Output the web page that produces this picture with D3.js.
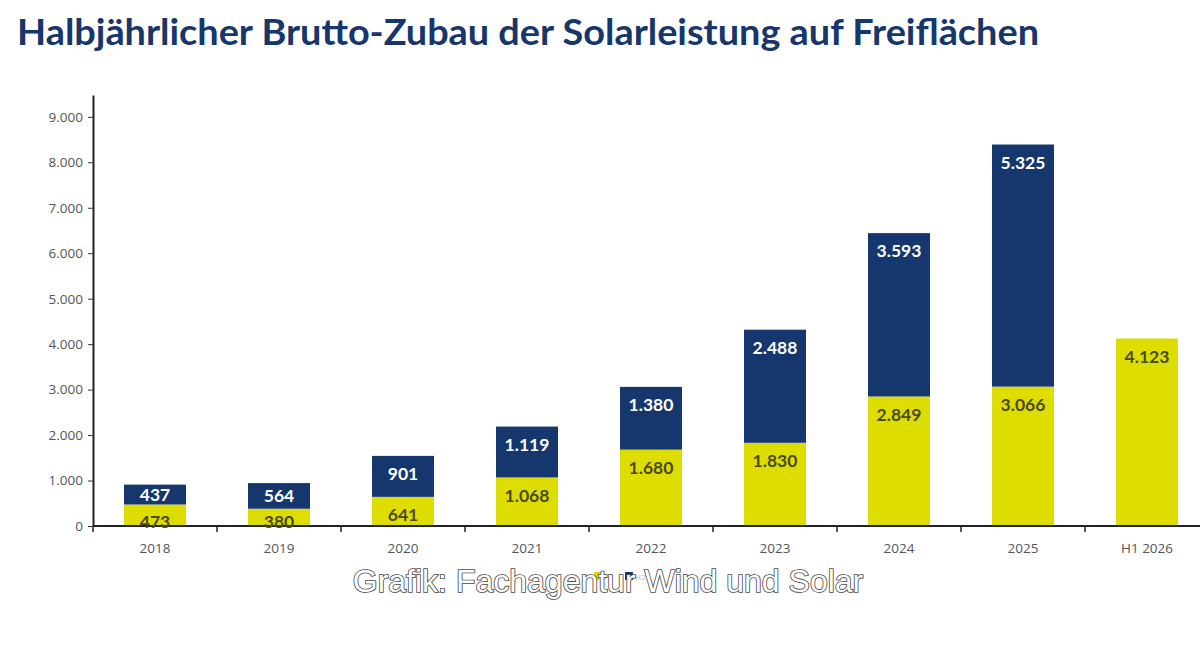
<!DOCTYPE html>
<html>
<head>
<meta charset="utf-8">
<script src="https://cdn.jsdelivr.net/npm/d3@7"></script>
<style>
  body { margin: 0; background: #fff; }
  svg { display: block; }
</style>
</head>
<body>
<div class="chart"></div>
<script>
// Data (MW)
const categories = ["2018", "2019", "2020", "2021", "2022", "2023", "2024", "2025", "H1 2026"];
const firstHalf  = [473, 380, 641, 1068, 1680, 1830, 2849, 3066, 4123];
const secondHalf = [437, 564, 901, 1119, 1380, 2488, 3593, 5325, null];
const seriesNames = ["H1", "H2"];
const yTicks = [0, 1000, 2000, 3000, 4000, 5000, 6000, 7000, 8000, 9000];

const W = 1200, H = 648;
const Margin = {top: 95, right: -9, bottom: 122, left: 93};
const navy = "#15376e", yellow = "#dedd00";

const fmt = v => d3.format(",")(v).replace(/,/g, ".");

const svg = d3.select(".chart").append("svg")
    .attr("width", W).attr("height", H);

// title
svg.append("text")
    .attr("x", 17).attr("y", 45)
    .attr("font-family", "Lato, 'Open Sans', sans-serif")
    .attr("font-weight", 700)
    .attr("font-size", 36)
    .attr("textLength", 1022)
    .attr("lengthAdjust", "spacingAndGlyphs")
    .attr("fill", "#17366b")
    .text("Halbjährlicher Brutto-Zubau der Solarleistung auf Freiflächen");

// build stacked rows
let rows = categories.map((c, i) => ({cat: c, H1: firstHalf[i], H2: secondHalf[i] || 0}));
let stacked = d3.stack().keys(seriesNames)(rows);

let x = d3.scaleBand().domain(categories)
    .range([Margin.left, W - Margin.right]).paddingInner(0.5).paddingOuter(0.25);
let y = d3.scaleLinear().domain([0, 9480]).range([H - Margin.bottom, Margin.top]);

// Y axis
let yAxis = svg.append("g")
    .attr("transform", "translate(" + Margin.left + ",0)")
    .call(d3.axisLeft(y).tickValues(yTicks).tickFormat(fmt).tickSize(5).tickSizeOuter(0));
yAxis.select(".domain").attr("stroke", "#222").attr("stroke-width", 2);
yAxis.selectAll(".tick line").attr("stroke", "#333");
yAxis.selectAll("text")
    .attr("font-family", "'Open Sans', sans-serif")
    .attr("font-size", 13.5).attr("fill", "#555").attr("x", -10);

// bars
let colors = {H1: yellow, H2: navy};
stacked.forEach(s => {
    svg.append("g").selectAll("rect")
        .data(s.filter(d => d[1] > d[0]))
        .join("rect")
        .attr("x", d => x(d.data.cat))
        .attr("width", x.bandwidth())
        .attr("y", d => y(d[1]))
        .attr("height", d => y(d[0]) - y(d[1]))
        .attr("fill", colors[s.key]);
});

// X axis (category boundaries as ticks)
let xAxisG = svg.append("g")
    .attr("transform", "translate(0," + y(0) + ")");
xAxisG.append("line")
    .attr("x1", Margin.left).attr("x2", W)
    .attr("stroke", "#222").attr("stroke-width", 2);
let step = x.step();
xAxisG.selectAll(".tk")
    .data(categories.map((c, i) => i))
    .join("line")
    .attr("x1", i => Margin.left + i * step).attr("x2", i => Margin.left + i * step)
    .attr("y1", 0).attr("y2", 6)
    .attr("stroke", "#222").attr("stroke-width", 1.5);
xAxisG.selectAll("text")
    .data(categories)
    .join("text")
    .attr("x", d => x(d) + x.bandwidth() / 2)
    .attr("y", 27)
    .attr("text-anchor", "middle")
    .attr("font-family", "'Open Sans', sans-serif")
    .attr("font-size", 13.5).attr("fill", "#555")
    .text(d => d);

// value labels
stacked.forEach(s => {
    svg.append("g").selectAll("text")
        .data(s.filter(d => d[1] > d[0]))
        .join("text")
        .attr("x", d => x(d.data.cat) + x.bandwidth() / 2)
        .attr("y", d => {
            let top = y(d[1]), bot = y(d[0]);
            if (s.key === "H2" && bot - top < 36) return (top + bot) / 2;
            return Math.min(top + 18, y(0) - 4);
        })
        .attr("dy", "0.35em")
        .attr("text-anchor", "middle")
        .attr("font-family", "Lato, 'Open Sans', sans-serif")
        .attr("font-weight", 700)
        .attr("font-size", 17.5)
        .attr("fill", s.key === "H2" ? "#fff" : "#4a4a1c")
        .text(d => fmt(d[1] - d[0]));
});

// legend (mostly covered by the credit line)
let legend = svg.append("g").attr("transform", "translate(594,572)");
seriesNames.forEach((n, i) => {
    legend.append("rect").attr("x", i * 31).attr("y", 0)
        .attr("width", 8).attr("height", 8).attr("fill", colors[n]);
    legend.append("text").attr("x", i * 31 + 10).attr("y", 8)
        .attr("font-family", "'Open Sans', sans-serif")
        .attr("font-size", 8).attr("fill", "#bbb").text(n);
});

// credit overlay
svg.append("text")
    .attr("x", 608).attr("y", 592)
    .attr("text-anchor", "middle")
    .attr("font-family", "'Liberation Sans', Arial, sans-serif")
    .attr("font-size", 32)
    .attr("fill", "#fff")
    .attr("stroke", "#4a4a4a").attr("stroke-width", 1.7)
    .attr("paint-order", "stroke")
    .text("Grafik: Fachagentur Wind und Solar");
</script>
</body>
</html>
